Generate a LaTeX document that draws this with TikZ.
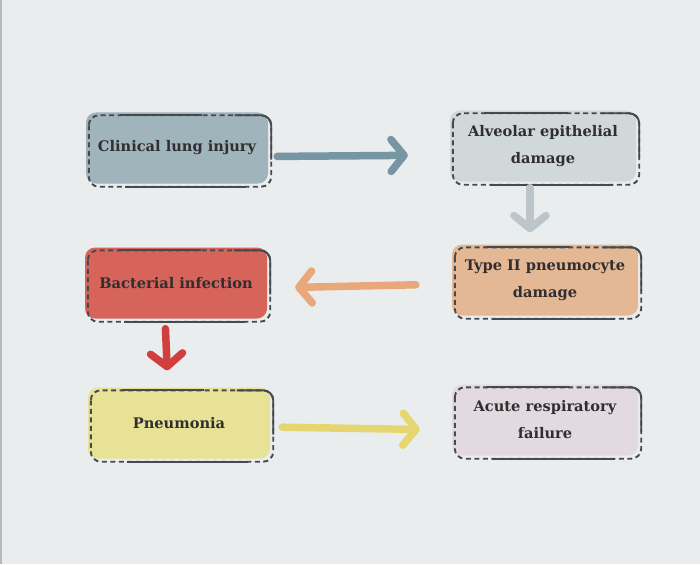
\documentclass[tikz,border=0pt]{standalone}
\usepackage{fontspec}
\setmainfont{DejaVu Serif}
\usetikzlibrary{arrows.meta,calc}
\usepackage{xcolor}
\definecolor{bgpaper}{RGB}{233,237,237}
\definecolor{edgegray}{RGB}{70,74,78}
\definecolor{txtgray}{RGB}{48,46,48}
\definecolor{injuryblue}{RGB}{160,180,188}
\definecolor{alveolgray}{RGB}{208,216,218}
\definecolor{bactred}{RGB}{214,100,90}
\definecolor{typetan}{RGB}{228,184,148}
\definecolor{pneuyellow}{RGB}{232,226,150}
\definecolor{acutepink}{RGB}{226,218,222}
\definecolor{arrowblue}{RGB}{118,150,164}
\definecolor{arroworange}{RGB}{232,168,122}
\definecolor{arrowyellow}{RGB}{230,214,112}
\definecolor{arrowgray}{RGB}{188,198,202}
\definecolor{arrowred}{RGB}{208,62,62}

% broken outline round a box, shifted a little down-right
\newcommand{\boxedge}[1]{%
  \draw[edge, dash pattern=on 5pt off 3.5pt, rounded corners=10pt]
    ($(#1.north west)+(3,3)$) rectangle ($(#1.south east)+(3,3)$);
  \draw[edge]
    ($(#1.north west)!0.17!(#1.north east)+(3,3)$) -- ($(#1.north west)!0.62!(#1.north east)+(3,3)$);
  \draw[edge, rounded corners=10pt]
    ($(#1.north west)!0.8!(#1.north east)+(3,3)$) -- ($(#1.north east)+(3,3)$)
    -- ($(#1.north east)!0.62!(#1.south east)+(3,3)$);
  \draw[edge]
    ($(#1.south west)!0.2!(#1.south east)+(3,3)$) -- ($(#1.south west)!0.86!(#1.south east)+(3,3)$);
}

\begin{document}
\begin{tikzpicture}[x=1pt, y=-1pt,
    stage/.style={rounded corners=10pt, minimum width=182pt, minimum height=71pt,
        align=center, text=txtgray, inner sep=0pt,
        font=\fontsize{14.6}{27}\selectfont\bfseries},
    edge/.style={edgegray, line width=1.9pt},
    flow/.style={line width=7.5pt, line cap=round,
        -{Straight Barb[length=13pt, width=32pt, round]}}]
    \useasboundingbox (0,0) rectangle (700,564);
    \fill[bgpaper] (0,0) rectangle (700,564);
    \fill[gray!55] (0,0) rectangle (2,564);

    % Boxes
    \node[stage, fill=injuryblue] (injury) at (177,148) {Clinical lung injury};
    \node[stage, fill=alveolgray, minimum width=186pt] (alveolar) at (543,146) {Alveolar epithelial\\damage};
    \node[stage, fill=bactred] (bacterial) at (176,283) {Bacterial infection};
    \node[stage, fill=typetan, minimum width=186pt] (typeii) at (545,280) {Type II pneumocyte\\damage};
    \node[stage, fill=pneuyellow] (pneumonia) at (179,423) {Pneumonia};
    \node[stage, fill=acutepink, minimum width=186pt] (acute) at (545,420) {Acute respiratory\\failure};

    \boxedge{injury}
    \boxedge{alveolar}
    \boxedge{bacterial}
    \boxedge{typeii}
    \boxedge{pneumonia}
    \boxedge{acute}

    % Arrows
    \draw[flow, arrowblue, shorten <=9pt, shorten >=42pt]
        ([yshift=-8.5pt]injury.east) -- ([yshift=-9pt]alveolar.west);
    \draw[flow, arrowgray, shorten <=6pt, shorten >=12pt]
        ([xshift=-13pt]alveolar.south) -- ([xshift=-15pt]typeii.north);
    \draw[flow, arroworange, shorten <=36pt, shorten >=28pt]
        ([yshift=-4pt]typeii.west) -- ([yshift=-5pt]bacterial.east);
    \draw[flow, arrowred, shorten <=10pt, shorten >=17pt]
        ([xshift=-11pt]bacterial.south) -- ([xshift=-11pt]pneumonia.north);
    \draw[flow, arrowyellow, shorten <=12pt, shorten >=32pt]
        ([yshift=-4pt]pneumonia.east) -- ([yshift=-10pt]acute.west);
\end{tikzpicture}
\end{document}
